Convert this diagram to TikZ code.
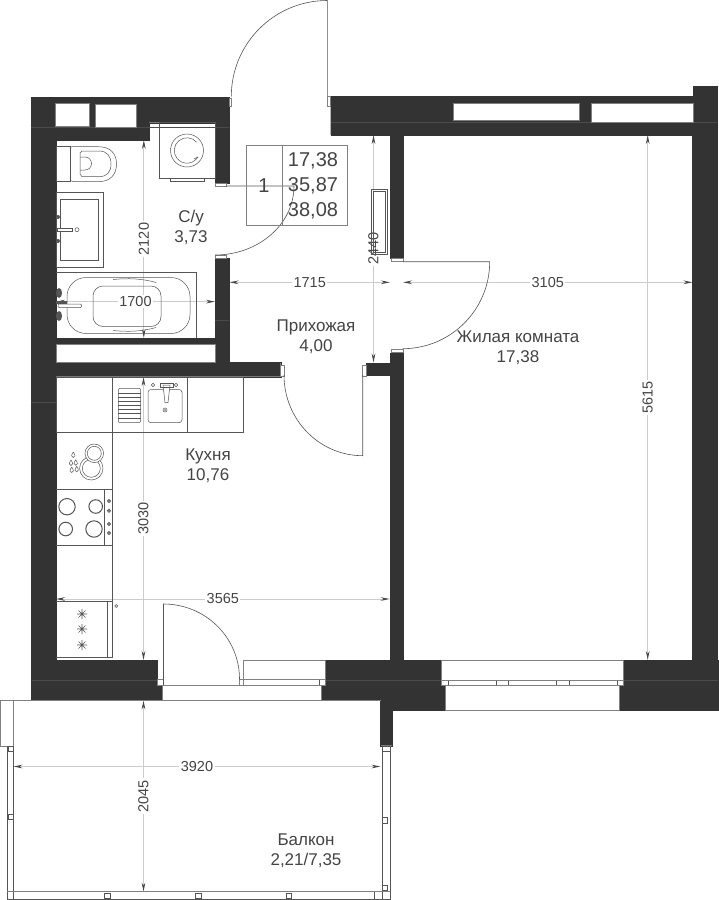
\documentclass[tikz,border=0pt]{standalone}
\usepackage{fontspec}
\setmainfont{Liberation Sans}
\usetikzlibrary{arrows.meta}
\definecolor{wallc}{HTML}{333333}
\definecolor{linec}{HTML}{555555}
\definecolor{frame}{HTML}{808080}
\definecolor{dimc}{HTML}{CCCCCC}
\definecolor{txt}{HTML}{444444}
\tikzset{
  wall/.style={fill=wallc,draw=wallc,line width=0.4pt},
  seam/.style={draw=wallc!88!white,line width=0.4pt},
  thin/.style={draw=linec,line width=0.6pt},
  ln/.style={draw=linec,line width=0.5pt},
  pane/.style={fill=white,draw=frame,line width=0.8pt},
  dimline/.style={draw=dimc,line width=0.9pt,{Stealth[length=9pt,width=3.6pt,color=wallc!90]}-{Stealth[length=9pt,width=3.6pt,color=wallc!90]}},
  dimlabel/.style={fill=white,inner sep=1.5pt,text=txt,font=\fontsize{14.5}{16}\selectfont},
  room/.style={align=center,text=txt,font=\fontsize{17}{20}\selectfont},
  tabletext/.style={text=txt,font=\fontsize{20}{22}\selectfont,inner sep=0pt}
}
\begin{document}
\begin{tikzpicture}[x=1pt,y=-1pt]
\useasboundingbox (0,0) rectangle (719,900);
\fill[white] (0,0) rectangle (719,900);

% ---- walls
\path[wall] (31,97.5) -- (229.5,97.5) -- (229.5,183) -- (215,183) -- (215,122.7) -- (149,122.7) -- (149,140) -- (56,140) -- (56,362.6) -- (280.7,362.6) -- (280.7,376.7) -- (56,376.7) -- (56,660) -- (157.5,660) -- (157.5,685) -- (162,685) -- (162,700.5) -- (31,700.5) -- cycle;
\path[wall] (215,258.5) rectangle (229.5,363);
\path[wall] (56,338) rectangle (215,344.5);
\path[wall] (330.7,96) -- (693,96) -- (693,86) -- (717.5,86) -- (717.5,135) -- (330.7,135) -- cycle;
\path[wall] (692.5,130) rectangle (717.5,660);
\path[wall] (390,130) rectangle (403,258);
\path[wall] (389.7,352.7) rectangle (402.8,662);
\path[wall] (366.3,363.3) rectangle (390.5,375);
\path[wall] (623,660) -- (718.5,660) -- (718.5,710) -- (619,710) -- (619,685.5) -- (623,685.5) -- cycle;
\path[wall] (325,660) -- (441.5,660) -- (441.5,685.5) -- (445.7,685.5) -- (445.7,710) -- (392,710) -- (392,745.7) -- (380.5,745.7) -- (380.5,700.5) -- (321,700.5) -- (321,685.5) -- (325,685.5) -- cycle;
% seams in the wall fill
\draw[seam] (31,126.7) -- (229,126.7) (331,122) -- (717,122) (31,402) -- (56,402) (32,680) -- (157,680) (326,680) -- (441,680) (623,680) -- (718,680) (215,320) -- (229,320);

% window openings
\path[pane] (55,103) rectangle (89,126.7);
\path[pane] (95.5,104) rectangle (136,127);
\path[pane] (453,103.5) rectangle (579.3,120.8);
\path[pane] (591,103.5) rectangle (693,122);
\path[pane] (56,344.5) rectangle (215,362.6);
% bottom openings
\path[pane] (162,685) rectangle (321,700.5);
\path[pane] (243.5,660.5) rectangle (325,679.5);
\path[pane] (239,679.5) rectangle (325,685);
\draw[ln] (243.5,679.5) -- (243.5,685) (319.5,679.5) -- (319.5,685);
\path[pane] (441.5,660.3) rectangle (623,680.5);
\path[pane] (441.5,680.5) rectangle (623,685.5);
\draw[ln] (448.3,680.5) -- (448.3,685.5) (496.7,680.5) -- (496.7,685.5) (508.3,680.5) -- (508.3,685.5) (556.7,680.5) -- (556.7,685.5) (569.3,680.5) -- (569.3,685.5) (617.3,680.5) -- (617.3,685.5);
\path[pane] (445.7,685.5) rectangle (619.3,710);

% ---- dimensions
\draw[dimline] (143.8,140) -- node[dimlabel,rotate=90] (d2120) {2120} (143.8,338);
\draw[dimline] (56,301.6) -- node[dimlabel] (d1700) {1700} (215,301.6);
\draw[dimline] (373.5,135) -- node[dimlabel,rotate=90] (d2440) {2440} (373.5,362.5);
\draw[dimline] (229.5,282.3) -- node[dimlabel] (d1715) {1715} (390,282.3);
\draw[dimline] (403,282.3) -- node[dimlabel] (d3105) {3105} (692.5,282.3);
\draw[dimline] (647.7,135) -- node[dimlabel,rotate=90] (d5615) {5615} (647.7,660);
\draw[dimline] (143.5,377) -- node[dimlabel,rotate=90] (d3030) {3030} (143.5,660);
\draw[dimline] (56,599) -- node[dimlabel] (d3565) {3565} (389.7,599);
\draw[dimline] (143.5,700.5) -- node[dimlabel,rotate=90] (d2045) {2045} (143.5,891.7);
\draw[dimline] (13.5,766.5) -- node[dimlabel] (d3920) {3920} (380.5,766.5);

% ---- doors
% entrance
\draw[thin] (327.3,96) -- (327.3,0.5) arc[start angle=90,end angle=180,radius=96pt];
\draw[pane,line width=0.5pt] (327.3,96) rectangle (330.7,106);
\draw[pane,line width=0.5pt] (229.5,98) rectangle (231.5,106.5);
% bath
\draw[pane,line width=0.5pt] (215,183) rectangle (226,186);
\draw[pane,line width=0.5pt] (215,255) rectangle (226,258.5);
\draw[thin] (226,186) -- (294,186) arc[start angle=0,end angle=-90,x radius=79pt,y radius=69pt];
% kitchen from hall
\draw[pane,line width=0.5pt] (280.7,365) rectangle (284,376);
\draw[pane,line width=0.5pt] (362.7,365) rectangle (366.3,376);
\draw[thin] (362.7,375) -- (362.7,455.7) arc[start angle=-90,end angle=-180,x radius=78.7pt,y radius=80.7pt];
% living room
\draw[pane,line width=0.5pt] (391.5,258) rectangle (402.8,261.7);
\draw[pane,line width=0.5pt] (391.5,349) rectangle (402.8,352.7);
\draw[thin] (402.8,261.7) -- (489.7,261.7) arc[start angle=0,end angle=-90,radius=87pt];
% balcony door
\draw[pane,line width=0.5pt] (157.5,679) rectangle (163.5,685);
\draw[pane,line width=0.5pt] (239,679) rectangle (243.5,685);
\draw[thin] (163.5,685) -- (163.5,604) arc[start angle=90,end angle=0,x radius=76pt,y radius=75pt];

% ---- radiator
\draw[ln] (371.7,189.3) rectangle (387.7,254.3);
\draw[ln] (373.3,191.3) rectangle (385.7,252.7);

% ---- washing machine
\draw[ln] (159.3,122.7) rectangle (215,178.3);
\draw[ln] (170,178.3) rectangle (204.5,181.5);
\draw[ln] (187,150.5) circle[radius=16.5pt];
\draw[ln] (196.7,142.3) arc[start angle=40,end angle=330,radius=12.7pt];
\draw[ln] (198,157) -- (194,159);
% toilet
\draw[ln] (56,146.7) rectangle (70,181.7);
\draw[ln] (70,149) [rounded corners=2pt] -- (70,146.7) [sharp corners] -- (98,146.7) .. controls (110,146.7) and (116.5,153) .. (116.5,164) .. controls (116.5,175) and (110,181.7) .. (98,181.7) -- (73,181.7) .. controls (71,181.7) and (70,180) .. (70,178);
\draw[ln] (82,151) -- (99,151) .. controls (107,151) and (111,156) .. (111,164) .. controls (111,172) and (107,176.7) .. (99,176.7) -- (82,176.7) -- (80,174) -- (80,153) -- cycle;
\draw[ln] (80,157) -- (85,157) .. controls (89,157) and (91.5,160) .. (91.5,163.5) .. controls (91.5,167) and (89,170) .. (85,170) -- (80,170);
% wash basin
\draw[ln] (56,192.4) rectangle (103,267.3);
\draw[ln] (60,199.5) rectangle (98,260);
\draw[ln,fill=white] (57,228) rectangle (72,231);
\draw[ln] (77,229.7) circle[radius=2pt];
\fill[linec] (58,217) circle[radius=2pt] (58,241) circle[radius=2pt];
% bath tub
\draw[ln] (56,272.7) -- (196.7,272.7) -- (196.7,338);
\draw[ln,rounded corners=19pt] (67,277.5) rectangle (190,333.5);
\draw[ln,rounded corners=10pt] (93,286) rectangle (161,326.5);
\draw[ln] (113,279.5) .. controls (128,278) and (142,278.5) .. (156,282.5);
\draw[ln] (113,330.5) .. controls (128,332) and (142,331.5) .. (156,327.5);
\fill[linec] (59,293) ellipse[x radius=3pt,y radius=5pt] (59,316) ellipse[x radius=3pt,y radius=5pt];
\fill[linec] (56,301) rectangle (67,304);
\draw[ln,fill=white,rounded corners=1pt] (58,304) rectangle (81.5,307.5);

% ---- kitchen units
\draw[ln] (56,377) rectangle (243.3,432.7);
\draw[ln] (187.3,377) -- (187.3,432.7);
\draw[ln] (112.7,377) -- (112.7,657.3);
\draw[ln] (56,489.3) -- (112.7,489.3) (56,545) -- (112.7,545) (56,601) -- (112.7,601) (56,657.3) -- (112.7,657.3);
% sink & drainer
\draw[ln,rounded corners=2pt] (118.3,388.3) rectangle (140.7,422.7);
\foreach \yy in {393,397,401,405,409,413,418} \draw[ln] (118.3,\yy) -- (140.7,\yy);
\draw[ln,rounded corners=3pt] (148,389.5) rectangle (182,422.7);
\draw[ln,fill=white] (163,385) -- (170,385) -- (168,402.5) -- (165,402.5) -- cycle;
\draw[ln] (160,383.5) rectangle (173,387);
\draw[ln] (153,385) circle[radius=1.8pt] (176,385) circle[radius=1.8pt] (165,410) circle[radius=2pt];
\fill[linec] (165,410) circle[radius=0.8pt];
% dish rack
\draw[ln] (91.3,468.3) circle[radius=11.7pt] (91.3,468.3) circle[radius=9pt];
\draw[ln,fill=white] (94.3,453.3) circle[radius=9.3pt];
\draw[ln] (94.3,453.3) circle[radius=7pt];
\foreach \xx/\yy in {73.3/455,71/463,75.7/462.7,71.7/470,76.7/469.3} \draw[ln] (\xx,\yy-3) .. controls (\xx-2,\yy) and (\xx-2.6,\yy+2.5) .. (\xx,\yy+2.5) .. controls (\xx+2.6,\yy+2.5) and (\xx+2,\yy) .. (\xx,\yy-3);
% hob
\draw[ln] (104.7,489.3) -- (104.7,545);
\draw[line width=1pt,draw=linec] (67,506.7) circle[radius=8.2pt] (95.7,506.5) circle[radius=6.8pt] (65.7,529) circle[radius=6.8pt] (94,529) circle[radius=8.2pt];
\foreach \yy in {501,510.7,524,533} {\draw[ln,fill=linec!70] (109,\yy) circle[radius=1.7pt];}
% cabinet with gas taps
\draw[ln] (107.7,601) -- (107.7,657.3);
\foreach \yy in {614,629,645} {
  \draw[draw=linec,line width=0.6pt] (77,\yy) -- (87,\yy) (82,\yy-5) -- (82,\yy+5) (78.5,\yy-3.5) -- (85.5,\yy+3.5) (78.5,\yy+3.5) -- (85.5,\yy-3.5);
}
\draw[ln] (116.3,606) circle[radius=1.5pt];

% ---- balcony
\path[pane,line width=0.5pt] (0.7,700.5) rectangle (13.5,746);
\draw[frame,line width=0.8pt] (13.5,700.5) -- (380.5,700.5);
\draw[ln] (7.3,746) -- (7.3,899.3) -- (390,899.3) -- (390,746);
\draw[ln] (13.3,746) -- (13.3,891.7) -- (382.3,891.7) -- (382.3,746);
\draw[draw=frame,line width=0.7pt] (7.3,891.7) -- (390,891.7);
\draw[ln] (13.3,891.7) -- (13.3,899.3) (374.3,891.7) -- (374.3,899.3) (382.3,891.7) -- (382.3,899.3);
\draw[ln] (8,746) rectangle (13,751) (8,814.5) rectangle (13,819.5);
\draw[ln] (382.5,746) rectangle (390,751) (382.5,817.5) rectangle (387.5,823) (382.5,885.5) rectangle (387.5,890.5);
\draw[ln] (104.5,893) rectangle (110,898) (195.5,893) rectangle (201,898) (286,893) rectangle (291.5,898);

% ---- schedule table
\draw[frame,line width=0.7pt] (246.7,145.3) rectangle (347.3,225.7);
\draw[frame,line width=0.7pt] (282.3,145.3) -- (282.3,225.7);
\node[tabletext] (tnum) at (264,185.5) {1};
\node[tabletext] (ta) at (313,160.5) {17,38};
\node[tabletext] (tb) at (313,185.5) {35,87};
\node[tabletext] (tc) at (313,210.5) {38,08};

% ---- room labels
\node[room] (bath) at (191,227) {С/у\\3,73};
\node[room] (hall) at (316,337) {Прихожая\\4,00};
\node[room] (kitchen) at (208,466) {Кухня\\10,76};
\node[room] (living) at (518,348) {Жилая комната\\17,38};
\node[room] (balcony) at (306,851) {Балкон\\2,21/7,35};
\end{tikzpicture}
\end{document}
